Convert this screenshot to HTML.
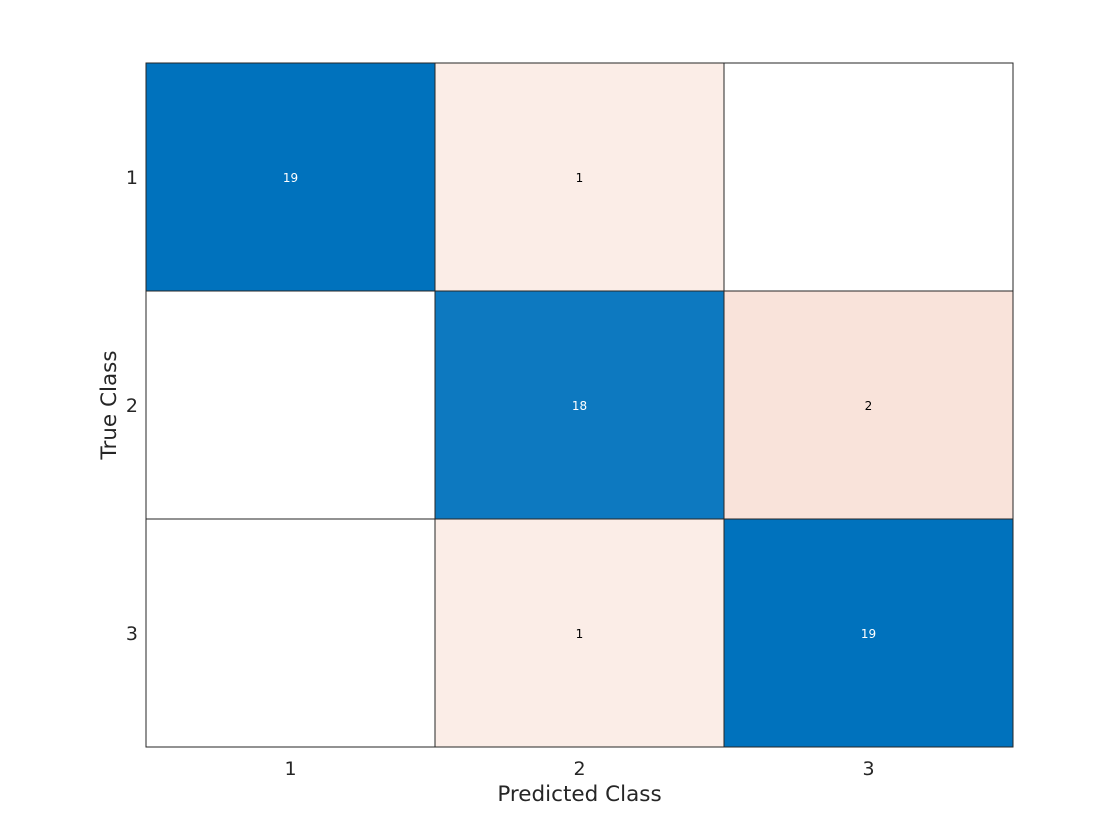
<!DOCTYPE html>
<html><head><meta charset="utf-8"><style>
html,body{margin:0;padding:0;background:#fff;}
svg{display:block;font-family:"DejaVu Sans","Liberation Sans",sans-serif;}
</style></head><body>
<svg id="chart" width="1120" height="840"></svg>
<script>
const classes = ["1","2","3"];
const row1 = [19,1,0];
const row2 = [0,18,2];
const row3 = [0,1,19];
const matrix = [row1,row2,row3];
const xTitle = "Predicted Class";
const yTitle = "True Class";

const NS="http://www.w3.org/2000/svg";
const svg=document.getElementById('chart');
const L=146,R=1013,T=63,B=747;
const n=classes.length;
const cw=(R-L)/n, ch=(B-T)/n;
function xPos(i){return L+i*cw;}
function yPos(i){return T+i*ch;}
function mk(tag,attrs,parent){const e=document.createElementNS(NS,tag);for(const k in attrs)e.setAttribute(k,attrs[k]);(parent||svg).appendChild(e);return e;}
function color(v,diag,total){
  if(v===0)return "#ffffff";
  const f=v/total;
  let t,c;
  if(diag){t=Math.min(1,f/0.95);c=[0,114,189];}
  else{t=Math.min(1,0.05+f*1.1);c=[217,83,25];}
  const r=Math.round(255+(c[0]-255)*t),g=Math.round(255+(c[1]-255)*t),b=Math.round(255+(c[2]-255)*t);
  return `rgb(${r},${g},${b})`;
}
const cells=mk('g',{});


matrix.forEach((row,i)=>{
  const total=row.reduce((a,b)=>a+b,0);
  row.forEach((v,j)=>{
    const r=mk('rect',{x:xPos(j),y:yPos(i),width:cw,height:ch,fill:color(v,i===j,total),stroke:"#262626","stroke-width":1},cells);
    
    
    if(v!==0){
      const t=mk('text',{x:xPos(j)+cw/2,y:yPos(i)+ch/2+5,"text-anchor":"middle","font-size":12,fill:i===j?"#ffffff":"#000000"},cells);
      t.textContent=v;
      
      
    }
  });
});
classes.forEach((c,i)=>{
  const tx=mk('text',{x:xPos(i)+cw/2,y:775,"text-anchor":"middle","font-size":19,fill:"#262626"});
  tx.textContent=c;
  
  
  const ty=mk('text',{x:138,y:yPos(i)+ch/2+7,"text-anchor":"end","font-size":19,fill:"#262626"});
  ty.textContent=c;
  
  
});
const xt=mk('text',{x:(L+R)/2,y:801,"text-anchor":"middle","font-size":21.5,fill:"#262626"});
xt.textContent=xTitle;


const yt=mk('text',{x:0,y:0,"text-anchor":"middle","font-size":21.5,fill:"#262626",transform:`translate(116,${(T+B)/2}) rotate(-90)`});
yt.textContent=yTitle;


</script>
</body></html>
